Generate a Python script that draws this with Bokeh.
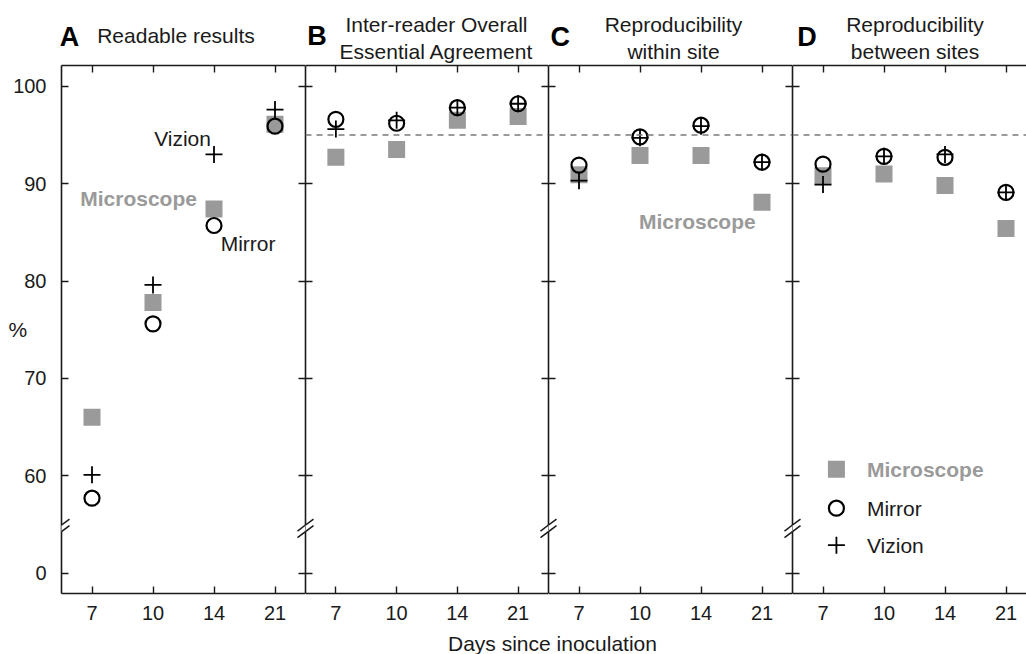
from bokeh.plotting import figure
from bokeh.models import FixedTicker, LinearAxis, Span, Label, Arrow, Range1d
from bokeh.layouts import row, column
from bokeh.core.properties import value
from bokeh.embed import file_html
from bokeh.resources import INLINE

# ---------------- data ----------------
days = ["7", "10", "14", "21"]
panel_letters = ["A", "B", "C", "D"]
panel_titles = [["Readable results"],
                ["Inter-reader Overall", "Essential Agreement"],
                ["Reproducibility", "within site"],
                ["Reproducibility", "between sites"]]

microscope_A = [66.0, 77.8, 87.4, 96.1]
mirror_A = [57.7, 75.6, 85.7, 95.9]
vizion_A = [60.1, 79.6, 93.0, 97.6]

microscope_B = [92.7, 93.5, 96.5, 96.9]
mirror_B = [96.6, 96.2, 97.8, 98.2]
vizion_B = [95.6, 96.5, 97.8, 98.2]

microscope_C = [90.9, 92.9, 92.9, 88.1]
mirror_C = [91.9, 94.8, 96.0, 92.2]
vizion_C = [90.3, 94.7, 95.9, 92.2]

microscope_D = [90.8, 91.0, 89.8, 85.4]
mirror_D = [92.0, 92.8, 92.7, 89.1]
vizion_D = [89.9, 92.8, 93.0, 89.1]

y_tick_values = [0, 60, 70, 80, 90, 100]
y_tick_labels = ["0", "60", "70", "80", "90", "100"]
threshold = 95
y_label = "%"
x_label = "Days since inoculation"

series = [(microscope_A, mirror_A, vizion_A),
          (microscope_B, mirror_B, vizion_B),
          (microscope_C, mirror_C, vizion_C),
          (microscope_D, mirror_D, vizion_D)]

FONT = "Liberation Sans"
GRAY = "#9a9a9a"
INK = "#1a1a1a"


def disp(v):
    # broken axis: values below the break are drawn at 50 + v
    return v if v >= 55 else 50 + v


xpos = [i + 0.5 for i in range(len(days))]
x_ticker = FixedTicker(ticks=xpos)
x_over = {x: d for x, d in zip(xpos, days)}
y_disp_ticks = [disp(v) for v in y_tick_values]
y_over = {disp(v): l for v, l in zip(y_tick_values, y_tick_labels)}

widths = [305, 243, 244, 234]
frame_w = [244, 243, 244, 234]
x_ends = [4, 4, 4, 234 / 61.0]
Y0, Y1 = 47.91, 102.13
TOP_H = 64
PH = 1 + 528 + 36
BOT_H = 654 - TOP_H - PH


def style_axis(ax, ticker, overrides, show_labels, standoff):
    ax.ticker = ticker
    ax.major_tick_in = 7
    ax.major_tick_out = 0
    ax.minor_tick_in = 0
    ax.minor_tick_out = 0
    ax.axis_line_color = INK
    ax.axis_line_width = 1.6
    ax.major_tick_line_color = INK
    ax.major_tick_line_width = 1.4
    ax.major_label_text_font = FONT
    if show_labels:
        ax.major_label_overrides = overrides
        ax.major_label_text_color = INK
        ax.major_label_text_font_size = "20px"
        ax.major_label_standoff = standoff
    else:
        ax.major_label_text_color = None
        ax.major_label_text_font_size = "0px"
        ax.major_label_standoff = 0


def add_break(p, xc, px_per_unit):
    dx = 8.0 / px_per_unit
    dy = 6.0 / 9.738
    p.add_layout(Arrow(end=None, x_start=xc, y_start=54.27, x_end=xc, y_end=54.94,
                       line_color="white", line_width=5, level="overlay"))
    for yc in (54.94, 54.27):
        p.add_layout(Arrow(end=None, x_start=xc - dx, y_start=yc - dy,
                           x_end=xc + dx, y_end=yc + dy,
                           line_color=INK, line_width=1.5, level="overlay"))


figs = []
for i in range(4):
    micro, mirr, viz = series[i]
    p = figure(width=widths[i], height=PH,
               x_range=Range1d(0, x_ends[i]), y_range=Range1d(Y0, Y1),
               output_backend="svg", toolbar_location=None,
               min_border_left=61 if i == 0 else 0, min_border_right=0,
               min_border_top=1, min_border_bottom=36)
    p.grid.visible = False
    p.outline_line_color = None
    p.background_fill_color = "white"
    p.border_fill_color = "white"

    style_axis(p.xaxis[0], x_ticker, x_over, True, 12)
    style_axis(p.yaxis[0], FixedTicker(ticks=y_disp_ticks), y_over, i == 0, 15)
    if i == 0:
        ya = p.yaxis[0]
        ya.axis_label = y_label
        ya.axis_label_text_font = FONT
        ya.axis_label_text_font_size = "21px"
        ya.axis_label_text_font_style = "normal"
        ya.axis_label_text_color = INK
        if "axis_label_orientation" in ya.properties():
            ya.axis_label_orientation = "horizontal"
            ya.axis_label_standoff = -17
    top = LinearAxis()
    style_axis(top, x_ticker, x_over, False, 0)
    p.add_layout(top, "above")
    if i < 3:
        right = LinearAxis()
        style_axis(right, FixedTicker(ticks=y_disp_ticks), y_over, False, 0)
        p.add_layout(right, "right")

    if i > 0:
        p.add_layout(Span(location=threshold, dimension="width", line_color="#7a7a7a",
                          line_width=1.6, line_dash="6 5"))

    p.scatter(xpos, [disp(v) for v in micro], marker="square", size=17,
              fill_color=GRAY, line_color=None)
    p.scatter(xpos, [disp(v) for v in mirr], marker="circle", size=15,
              fill_color=None, line_color="black", line_width=2.2)
    p.scatter(xpos, [disp(v) for v in viz], marker="cross", size=17,
              line_color="black", line_width=1.8)

    ppu = frame_w[i] / x_ends[i] if i < 3 else 61.0
    add_break(p, 0, ppu)
    if i < 3:
        add_break(p, 4, ppu)

    if i == 0:
        p.text([2.45], [94.6], text=["Vizion"], text_font=value(FONT),
               text_font_size="21px", text_color=INK, text_align="right",
               text_baseline="middle")
        p.text([2.22], [88.5], text=["Microscope"], text_font=value(FONT),
               text_font_size="21px", text_font_style="bold", text_color=GRAY,
               text_align="right", text_baseline="middle")
        p.text([2.61], [83.8], text=["Mirror"], text_font=value(FONT),
               text_font_size="21px", text_color=INK, text_align="left",
               text_baseline="middle")
    if i == 2:
        p.text([2.44], [86.1], text=["Microscope"], text_font=value(FONT),
               text_font_size="21px", text_font_style="bold", text_color=GRAY,
               text_align="center", text_baseline="middle")
    if i == 3:
        leg_y = [60.68, 56.67, 52.87]
        p.scatter([0.72], [leg_y[0]], marker="square", size=17,
                  fill_color=GRAY, line_color=None)
        p.scatter([0.72], [leg_y[1]], marker="circle", size=15,
                  fill_color=None, line_color="black", line_width=2.2)
        p.scatter([0.72], [leg_y[2]], marker="cross", size=17,
                  line_color="black", line_width=1.8)
        p.text([1.22], [leg_y[0]], text=["Microscope"], text_font=value(FONT),
               text_font_size="21px", text_font_style="bold", text_color=GRAY,
               text_baseline="middle")
        p.text([1.22, 1.22], leg_y[1:], text=["Mirror", "Vizion"],
               text_font=value(FONT), text_font_size="21px", text_color=INK,
               text_baseline="middle")
    figs.append(p)


def strip_fig(h):
    s = figure(width=1026, height=h, x_range=Range1d(0, 1026), y_range=Range1d(0, h),
               output_backend="svg", toolbar_location=None,
               min_border_left=0, min_border_right=0, min_border_top=0,
               min_border_bottom=0)
    s.axis.visible = False
    s.grid.visible = False
    s.outline_line_color = None
    s.background_fill_color = "white"
    s.border_fill_color = "white"
    return s


# panel titles (strip above the panels); y given as text middle, measured from strip top
top_strip = strip_fig(TOP_H)
letter_x = [59.3, 306.7, 550, 796.7]
letter_mid = [36.3, 35.8, 36.3, 36.7]
for lx, lm, letter in zip(letter_x, letter_mid, panel_letters):
    top_strip.add_layout(Label(x=lx, y=TOP_H - lm, text=letter, text_font=FONT,
                               text_font_style="bold", text_font_size="27px",
                               text_color="black", text_baseline="middle"))
top_strip.add_layout(Label(x=96.7, y=TOP_H - 35.2, text=panel_titles[0][0], text_font=FONT,
                           text_font_size="21px", text_color=INK,
                           text_baseline="middle"))
title_cx = [None, 436, 673, 914.5]
for i in (1, 2, 3):
    for line, mid in zip(panel_titles[i], (23.8, 50.5)):
        top_strip.add_layout(Label(x=title_cx[i], y=TOP_H - mid, text=line, text_font=FONT,
                                   text_font_size="21px", text_color=INK,
                                   text_align="center", text_baseline="middle"))

bot_strip = strip_fig(BOT_H)
bot_strip.add_layout(Label(x=552, y=BOT_H - 14, text=x_label, text_font=FONT,
                           text_font_size="21px", text_color=INK, text_align="center",
                           text_baseline="middle"))

layout = column(top_strip, row(*figs, spacing=0), bot_strip, spacing=0)
open("out.html", "w").write(file_html(layout, INLINE))
